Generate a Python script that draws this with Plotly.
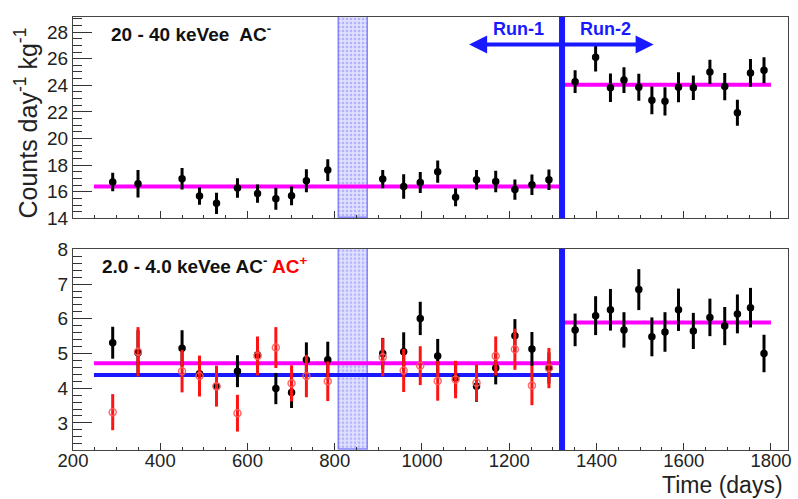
import plotly.graph_objects as go

# ---------------- data ----------------
days_run1 = [291, 349, 450, 490, 529, 577, 623, 665, 701, 735, 784, 910, 958, 996,
             1036, 1077, 1125, 1169, 1213, 1252, 1291]
days_run2 = [1351, 1398, 1432, 1463, 1497, 1527, 1557, 1588, 1622, 1660, 1694, 1723,
             1753, 1784]

hi_run1 = [16.73, 16.6, 16.97, 15.67, 15.13, 16.28, 15.86, 15.47, 15.69, 16.82, 17.63,
           16.95, 16.4, 16.70, 17.51, 15.59, 16.9, 16.77, 16.16, 16.53, 16.9]
hi_run1_err = [0.70, 1.04, 0.81, 0.64, 0.8, 0.74, 0.68, 0.82, 0.7, 0.86, 0.82, 0.69,
               0.92, 0.79, 0.84, 0.68, 0.74, 0.8, 0.76, 0.77, 0.77]
hi_run2 = [24.27, 26.1, 23.82, 24.39, 23.85, 22.87, 22.79, 23.85, 23.82, 25.0, 23.9,
           21.93, 24.93, 25.13]
hi_run2_err = [0.86, 1.07, 1.07, 0.97, 1.02, 1.04, 1.07, 1.13, 0.92, 0.91, 1.02, 0.98,
               1.04, 0.98]

lo_acm_run1 = [5.31, 5.02, 5.15, 4.42, 4.05, 4.49, 4.96, 3.99, 3.88, 4.82, 4.82, 5.0,
               5.05, 6.01, 4.93, 4.3, 4.06, 4.58, 5.51, 5.13, 4.58]
lo_acm_run1_err = [0.46, 0.65, 0.52, 0.45, 0.5, 0.46, 0.5, 0.45, 0.45, 0.5, 0.52, 0.45,
                   0.56, 0.48, 0.49, 0.45, 0.45, 0.47, 0.48, 0.49, 0.45]
lo_acp_run1 = [3.31, 5.05, 4.49, 4.35, 4.06, 3.28, 4.93, 5.17, 4.14, 4.35, 4.2, 4.89,
               4.51, 4.65, 4.21, 4.25, 4.16, 4.93, 5.12, 4.08, 4.58]
lo_acp_run1_err = [0.52, 0.71, 0.61, 0.59, 0.59, 0.53, 0.56, 0.59, 0.52, 0.61, 0.57,
                   0.55, 0.62, 0.56, 0.57, 0.54, 0.53, 0.56, 0.59, 0.57, 0.58]
lo_acm_run2 = [5.68, 6.09, 6.26, 5.68, 6.84, 5.48, 5.62, 6.26, 5.65, 6.04, 5.79, 6.14,
               6.32, 5.0]
lo_acm_run2_err = [0.47, 0.56, 0.6, 0.51, 0.59, 0.56, 0.57, 0.61, 0.52, 0.54, 0.55,
                   0.56, 0.57, 0.54]

# fit levels
fit_start, run_split, fit_end = 248, 1321, 1800
hi_fit = [16.4, 24.04]
lo_fit_acm = [4.72, 5.89]
lo_fit_acp = 4.38

gap_start, gap_end = 810, 877
arrow_left, arrow_right = 1108, 1531

x_range = [200, 1839]
hi_range = [14, 29.13]
lo_range = [2.22, 8.02]

BLUE = "rgb(25,25,255)"
MAG = "rgb(255,0,255)"
FONT = "Liberation Sans, Arial, sans-serif"

fig = go.Figure()

# shaded gap bands (pattern bars)
for ax, rng in (("", hi_range), ("2", lo_range)):
    fig.add_trace(go.Bar(
        x=[(gap_start + gap_end) / 2], width=[gap_end - gap_start],
        base=[rng[0]], y=[rng[1] - rng[0]],
        xaxis="x" + ax, yaxis="y" + ax,
        marker=dict(color="rgba(200,200,255,0.55)",
                    line=dict(color="rgba(110,110,255,0.8)", width=1.5),
                    pattern=dict(shape=".", fgcolor="rgba(90,90,255,0.7)",
                                 bgcolor="rgba(205,205,255,0.6)", size=4, solidity=0.35)),
        showlegend=False, hoverinfo="skip"))

# fit lines
def hline(x0, x1, y, color, width, xa, ya):
    fig.add_trace(go.Scatter(x=[x0, x1], y=[y, y], mode="lines",
                             line=dict(color=color, width=width),
                             xaxis=xa, yaxis=ya, showlegend=False, hoverinfo="skip"))

hline(fit_start, run_split, hi_fit[0], MAG, 4, "x", "y")
hline(run_split, fit_end, hi_fit[1], MAG, 4, "x", "y")
hline(fit_start, run_split, lo_fit_acp, BLUE, 4, "x2", "y2")
hline(fit_start, run_split, lo_fit_acm[0], MAG, 4, "x2", "y2")
hline(run_split, fit_end, lo_fit_acm[1], MAG, 4, "x2", "y2")

def points(x, y, err, xa, ya, color, mcolor, symbol, size):
    fig.add_trace(go.Scatter(
        x=x, y=y, mode="markers", xaxis=xa, yaxis=ya,
        error_y=dict(type="data", array=err, color=color, thickness=3, width=0),
        marker=dict(color=mcolor, symbol=symbol, size=size,
                    line=dict(color=mcolor, width=1.5)),
        showlegend=False))

points(days_run1, hi_run1, hi_run1_err, "x", "y", "black", "black", "circle", 6)
points(days_run2, hi_run2, hi_run2_err, "x", "y", "black", "black", "circle", 6)
points(days_run1, lo_acm_run1, lo_acm_run1_err, "x2", "y2", "black", "black", "circle", 6)
points(days_run2, lo_acm_run2, lo_acm_run2_err, "x2", "y2", "black", "black", "circle", 6)
points(days_run1, lo_acp_run1, lo_acp_run1_err, "x2", "y2", "rgb(255,20,20)",
       "rgba(255,90,90,0.9)", "circle-open", 7)

# vertical run split lines
shapes = []
for xr, yr in (("x", "y domain"), ("x2", "y2 domain")):
    shapes.append(dict(type="line", xref=xr, yref=yr,
                       x0=run_split, x1=run_split, y0=0, y1=1,
                       line=dict(color=BLUE, width=6), layer="above"))

axis_common = dict(showline=True, mirror=True, linecolor="#444", linewidth=1,
                   ticks="inside", showgrid=False, zeroline=False,
                   tickcolor="#333")
yfont = dict(family=FONT, size=19, color="#222")
xfont = dict(family=FONT, size=18.5, color="#222")

fig.update_layout(
    width=798, height=499,
    margin=dict(l=73, r=7, t=9, b=49),
    paper_bgcolor="white", plot_bgcolor="white",
    barmode="overlay", bargap=0,
    font=dict(family=FONT),
    xaxis=dict(domain=[0, 1], anchor="y", range=x_range, dtick=200, tick0=200,
               ticklen=7, showticklabels=False, tickfont=xfont,
               minor=dict(dtick=50, ticklen=3.5, ticks="inside", tickcolor="#333"),
               **axis_common),
    yaxis=dict(domain=[0.535, 1], anchor="x", range=hi_range, dtick=2, tick0=14,
               ticklen=19, tickfont=yfont,
               minor=dict(dtick=0.5, ticklen=9, ticks="inside", tickcolor="#333"),
               **axis_common),
    xaxis2=dict(domain=[0, 1], anchor="y2", range=x_range, dtick=200, tick0=200,
                ticklen=7, tickfont=xfont, ticklabelstandoff=-6,
                minor=dict(dtick=50, ticklen=3.5, ticks="inside", tickcolor="#333"),
                **axis_common),
    yaxis2=dict(domain=[0, 0.465], anchor="x2", range=lo_range, dtick=1, tick0=2,
                ticklen=19, tickfont=yfont,
                minor=dict(dtick=0.2, ticklen=9, ticks="inside", tickcolor="#333"),
                **axis_common),
    shapes=shapes,
)

def py(px):
    # pixel row (from top of figure) -> paper y
    return (450 - px) / 441

ann = []
ann.append(dict(xref="paper", yref="paper", x=(109 - 73) / 718, y=py(25), xanchor="left",
                yanchor="middle", showarrow=False,
                text="<b>20 - 40 keVee  AC<sup>-</sup></b>",
                font=dict(family=FONT, size=19, color="#111")))
ann.append(dict(xref="paper", yref="paper", x=(100 - 73) / 718, y=py(262), xanchor="left",
                yanchor="middle", showarrow=False,
                text="<b>2.0 - 4.0 keVee AC<sup>-</sup> <span style='color:red'>AC<sup>+</sup></span></b>",
                font=dict(family=FONT, size=19, color="#111")))
ann.append(dict(xref="x", yref="paper", x=1221, y=py(21), showarrow=False,
                yanchor="middle",
                text="<b>Run-1</b>", font=dict(family=FONT, size=18, color=BLUE)))
ann.append(dict(xref="x", yref="paper", x=1421, y=py(21), showarrow=False,
                yanchor="middle",
                text="<b>Run-2</b>", font=dict(family=FONT, size=18, color=BLUE)))
arrow_y = 27.07
for tip in (arrow_left, arrow_right):
    ann.append(dict(xref="x", yref="y", x=tip, y=arrow_y, axref="x", ayref="y",
                    ax=run_split, ay=arrow_y, text="", showarrow=True,
                    arrowhead=2, arrowsize=0.9, arrowwidth=4, arrowcolor=BLUE,
                    standoff=0, startstandoff=0))
ann.append(dict(xref="paper", yref="paper", x=-0.065, y=py(117), textangle=-90,
                showarrow=False, xanchor="center", yanchor="middle",
                text="Counts day<sup>-1</sup> kg<sup>-1</sup>",
                font=dict(family=FONT, size=25, color="#222")))
ann.append(dict(xref="paper", yref="paper", x=0.996, y=py(486), xanchor="right",
                yanchor="middle", showarrow=False, text="Time (days)",
                font=dict(family=FONT, size=23, color="#222")))
fig.update_layout(annotations=ann)

fig.write_html("out.html", config={"displayModeBar": False},
               post_script="document.body.style.margin='0';document.body.style.overflow='hidden';")
